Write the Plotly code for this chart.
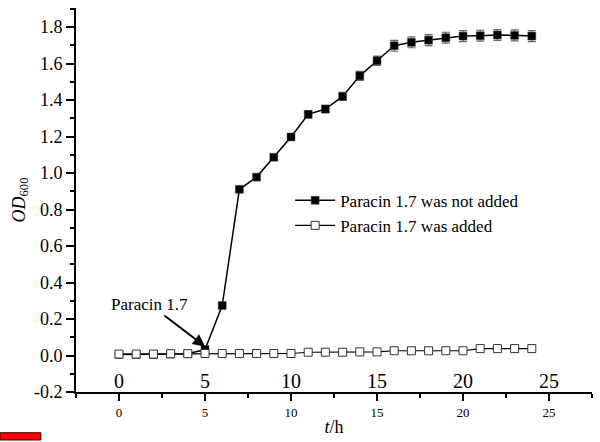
import plotly.graph_objects as go

hours = list(range(0, 25))
not_added = [0.005, 0.005, 0.005, 0.008, 0.01, 0.033, 0.274, 0.911, 0.978, 1.087, 1.198,
             1.322, 1.351, 1.420, 1.533, 1.616, 1.698, 1.717, 1.729, 1.742, 1.751,
             1.753, 1.757, 1.755, 1.751]
not_added_err = [0.005, 0.005, 0.005, 0.005, 0.005, 0.008, 0.01, 0.012, 0.015, 0.015, 0.018,
                 0.02, 0.02, 0.022, 0.025, 0.025, 0.03, 0.03, 0.03, 0.03, 0.03,
                 0.03, 0.03, 0.03, 0.03]
added = [0.008, 0.008, 0.008, 0.01, 0.01, 0.011, 0.011, 0.011, 0.011, 0.011, 0.011,
         0.018, 0.018, 0.018, 0.02, 0.02, 0.026, 0.026, 0.026, 0.026, 0.026,
         0.038, 0.038, 0.038, 0.038]

inner_ticks = [0, 5, 10, 15, 20, 25]
x_ticks = [0, 5, 10, 15, 20, 25]
y_ticks = [-0.2, 0.0, 0.2, 0.4, 0.6, 0.8, 1.0, 1.2, 1.4, 1.6, 1.8]

FONT = "Liberation Serif"

fig = go.Figure()
fig.add_trace(go.Scatter(
    x=hours, y=not_added, mode="lines+markers", name="Paracin 1.7 was not added",
    line=dict(color="black", width=1.5),
    marker=dict(symbol="square", size=8, color="black", line=dict(color="#555", width=0.5)),
    error_y=dict(type="data", array=not_added_err, color="#666", thickness=1.2, width=4),
))
fig.add_trace(go.Scatter(
    x=hours, y=added, mode="lines+markers", name="Paracin 1.7 was added",
    line=dict(color="black", width=1.2),
    marker=dict(symbol="square", size=8, color="white", line=dict(color="#333", width=1)),
))

annotations = [dict(x=t, y=-0.2, xref="x", yref="y", text=str(t), showarrow=False,
                    yshift=11, font=dict(family=FONT, size=20, color="black"))
               for t in inner_ticks]
annotations.append(dict(
    x=5.0, y=0.05, xref="x", yref="y", ax=1.8, ay=0.28, axref="x", ayref="y",
    text="Paracin 1.7", showarrow=True, arrowhead=2, arrowsize=1.2, arrowwidth=2,
    arrowcolor="black", standoff=0, font=dict(family=FONT, size=17, color="black"),
))

fig.update_layout(
    width=600, height=442,
    margin=dict(l=76, r=8, t=8, b=48),
    paper_bgcolor="white", plot_bgcolor="white",
    font=dict(family=FONT, size=16, color="black"),
    showlegend=True,
    legend=dict(x=0.415, y=0.545, xanchor="left", yanchor="top",
                bgcolor="rgba(0,0,0,0)", font=dict(family=FONT, size=17),
                tracegroupgap=0, itemwidth=40),
    annotations=annotations,
    shapes=[dict(type="rect", xref="paper", yref="paper",
                 x0=-0.147, x1=-0.068, y0=-0.125, y1=-0.106,
                 fillcolor="#ff0000", line=dict(color="#400000", width=1))],
)
fig.update_xaxes(
    range=[-2.5, 27.5], tickvals=x_ticks, ticks="outside", ticklen=7, tickwidth=2,
    tickcolor="black", showline=True, linecolor="black", linewidth=2, mirror=False,
    showgrid=False, zeroline=False, tickfont=dict(family=FONT, size=13),
    minor=dict(dtick=2.5, tick0=0, ticks="outside", ticklen=4, tickwidth=2, tickcolor="black"),
    title=dict(text="<i>t</i>/h", font=dict(family=FONT, size=18), standoff=2),
)
fig.update_yaxes(
    range=[-0.2, 1.905], tickvals=y_ticks, ticktext=[f"{v:.1f}" for v in y_ticks],
    ticks="outside", ticklen=8, tickwidth=2, tickcolor="black",
    showline=True, linecolor="black", linewidth=2, mirror=False,
    showgrid=False, zeroline=False, tickfont=dict(family=FONT, size=18),
    minor=dict(dtick=0.1, tick0=0, ticks="outside", ticklen=4, tickwidth=2, tickcolor="black"),
    title=dict(text="<i>OD</i><sub>600</sub>", font=dict(family=FONT, size=18), standoff=4),
)

fig.write_html("out.html")
